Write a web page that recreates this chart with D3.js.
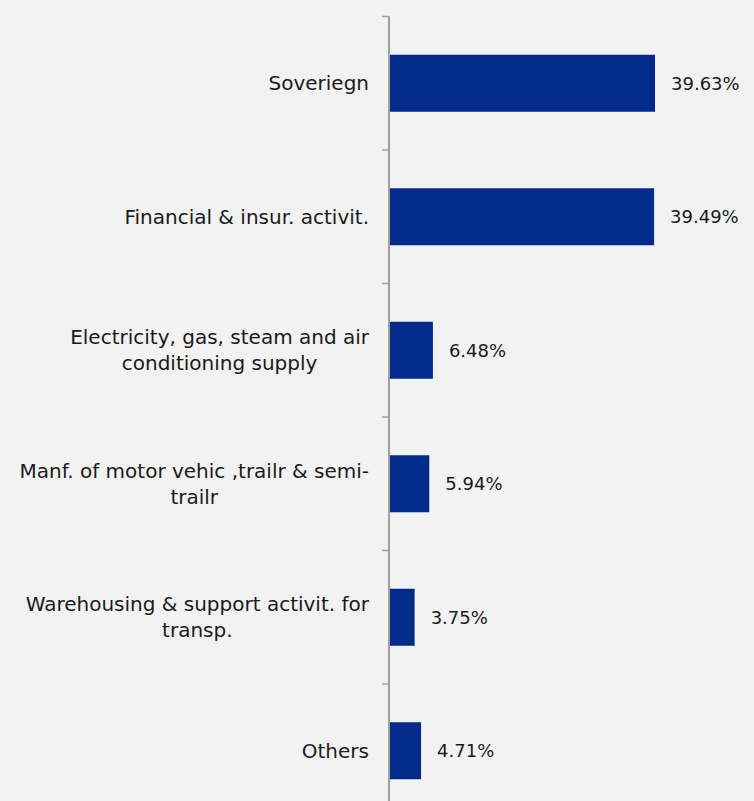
<!DOCTYPE html>
<html>
<head>
<meta charset="utf-8">
<script src="https://cdn.jsdelivr.net/npm/d3@7"></script>
<style>
  html, body { margin: 0; padding: 0; background: #f2f2f2; }
  svg { display: block; }
  text { font-family: "Century Gothic", "DejaVu Sans", sans-serif; fill: #1a1a1a; }
</style>
</head>
<body>
<svg id="chart" width="754" height="801"></svg>
<script>
// Exposure by sector (share of total, %)
const categories = [
  "Soveriegn",
  "Financial & insur. activit.",
  "Electricity, gas, steam and air\nconditioning supply",
  "Manf. of motor vehic ,trailr & semi-\ntrailr",
  "Warehousing & support activit. for\ntransp.",
  "Others"
];
const values = [39.63, 39.49, 6.48, 5.94, 3.75, 4.71];
const valueLabels = ["39.63%", "39.49%", "6.48%", "5.94%", "3.75%", "4.71%"];

const width = 754, height = 801;
const svg = d3.select("#chart");

svg.append("rect").attr("width", width).attr("height", height).attr("fill", "#f2f2f2");

const axisX = 389;
const y = d3.scaleBand()
  .domain(categories)
  .range([16.5, 817.5])
  .paddingInner(0.573)
  .paddingOuter(0.2865);

const x = d3.scaleLinear().domain([0, 40]).range([389.5, 657.5]);

const data = categories.map((c, i) => ({ cat: c, value: values[i], label: valueLabels[i] }));

// Bars
svg.append("g").selectAll("rect")
  .data(data)
  .join("rect")
  .attr("x", x(0))
  .attr("y", d => y(d.cat))
  .attr("width", d => x(d.value) - x(0))
  .attr("height", y.bandwidth())
  .attr("fill", "#042a8b");

// Value labels
svg.append("g").selectAll("text")
  .data(data)
  .join("text")
  .attr("x", d => x(d.value) + 16)
  .attr("y", d => y(d.cat) + y.bandwidth() / 2)
  .attr("dy", "0.36em")
  .attr("font-size", 18)
  .text(d => d.label);

// Category axis line with ticks between categories
const gap = (y.step() - y.bandwidth()) / 2;
const axis = svg.append("g").attr("stroke", "#a0a0a0");
axis.append("line")
  .attr("x1", axisX).attr("x2", axisX)
  .attr("y1", 16.5).attr("y2", height)
  .attr("stroke-width", 2);
axis.selectAll("line.tick")
  .data(categories)
  .join("line")
  .attr("class", "tick")
  .attr("x1", axisX - 7).attr("x2", axisX)
  .attr("y1", d => y(d) - gap).attr("y2", d => y(d) - gap)
  .attr("stroke-width", 1.5);

// Category labels: lines centred within a block that is right-aligned to the axis
const labelRight = 369, lineHeight = 26;
const labels = svg.append("g");
data.forEach(d => {
  const lines = d.cat.split("\n");
  const cy = y(d.cat) + y.bandwidth() / 2;
  const t = labels.append("text")
    .attr("font-size", 20)
    .attr("text-anchor", "middle");
  const spans = lines.map((ln, i) =>
    t.append("tspan")
      .attr("y", cy + (i - (lines.length - 1) / 2) * lineHeight)
      .attr("dy", "0.36em")
      .text(ln));
  const maxW = d3.max(spans, s => s.node().getComputedTextLength());
  spans.forEach(s => s.attr("x", labelRight - maxW / 2));
});
</script>
</body>
</html>
